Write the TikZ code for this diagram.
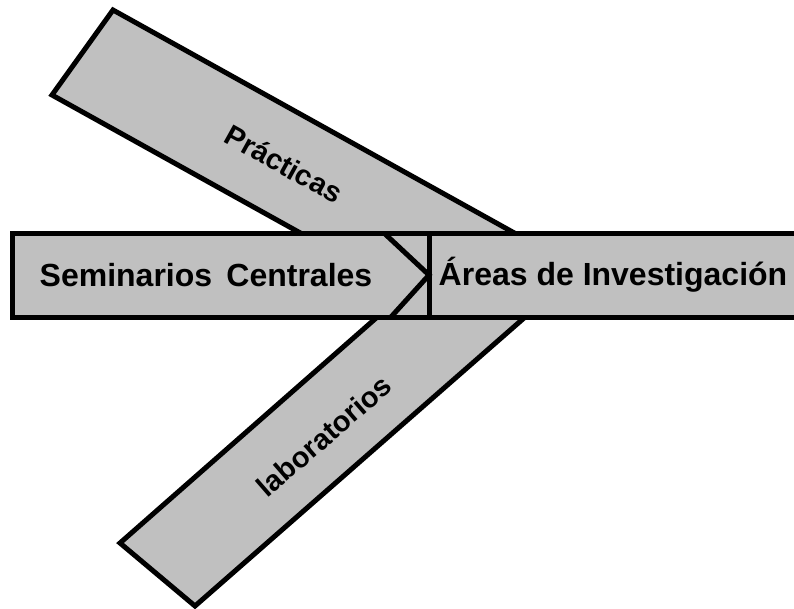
\documentclass[tikz,border=0pt]{standalone}
\usepackage{fontspec}
\setmainfont{Liberation Sans}
\definecolor{bandgray}{RGB}{192,192,192}
\begin{document}
\begin{tikzpicture}[x=1pt,y=-1pt,
  band/.style={draw=black,fill=bandgray,line width=5pt,line join=miter},
  edge/.style={draw=black,line width=5pt},
  lbl/.style={font=\bfseries\fontsize{29}{34}\selectfont,text=black,inner sep=0pt},
  biglbl/.style={lbl,font=\bfseries\fontsize{32}{38}\selectfont}]
\useasboundingbox (0,0) rectangle (794,608);
\clip (0,0) rectangle (794,608);
% top band (Prácticas)
\coordinate (pA) at (113,10);
\coordinate (pB) at (563,260);
\coordinate (pC) at (349,260);
\coordinate (pD) at (52,95);
\path[band] (pA) -- (pB) -- (pC) -- (pD) -- cycle;
% bottom band (laboratorios)
\coordinate (lA) at (120,543);
\coordinate (lB) at (195,606);
\coordinate (lC) at (556,290);
\coordinate (lD) at (408,290);
\path[band] (lA) -- (lB) -- (lC) -- (lD) -- cycle;
% horizontal bar
\path[band] (12,233) rectangle (429,317);
\path[band] (429,233) rectangle (820,317);
% chevron inside left box
\coordinate (chT) at (384,233);
\coordinate (chM) at (429,275);
\coordinate (chB) at (391,317);
\draw[edge] (chT) -- (chM) -- (chB);
% labels
\node[biglbl] (sem) at (206,275) {Seminarios\, Centrales};
\node[biglbl] (are) at (613,275) {Áreas de Investigación};
\node[lbl,rotate=-29] (pra) at (284,164) {Prácticas};
\node[lbl,rotate=41] (lab) at (324,436) {laboratorios};
\end{tikzpicture}
\end{document}
